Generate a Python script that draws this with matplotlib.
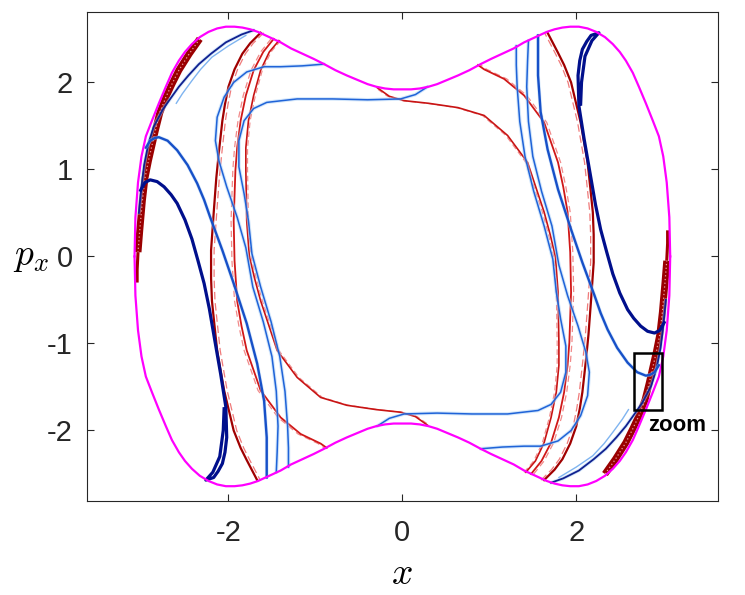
import matplotlib
matplotlib.use('Agg')
import matplotlib.pyplot as plt
import numpy as np
from matplotlib.patches import Rectangle

plt.rcParams['font.family'] = ['Liberation Sans', 'DejaVu Sans']
plt.rcParams['mathtext.fontset'] = 'cm'
plt.rcParams['axes.unicode_minus'] = False

# energy boundary, upper-left quarter (mirrored for the rest)
bound_x = [-3.08, -3.07, -3.04, -3.00, -2.95, -2.88, -2.80, -2.72, -2.65, -2.57, -2.50, -2.42,
           -2.33, -2.23, -2.13, -2.03, -1.93, -1.84, -1.75, -1.66, -1.53, -1.40, -1.28, -1.15,
           -1.02, -0.90, -0.77, -0.64, -0.52, -0.40, -0.30, -0.20, -0.10, 0.00]
bound_p = [0.00, 0.45, 0.85, 1.15, 1.38, 1.56, 1.76, 1.95, 2.11, 2.25, 2.35, 2.44,
           2.52, 2.58, 2.62, 2.64, 2.64, 2.63, 2.61, 2.58, 2.52, 2.46, 2.39, 2.33,
           2.27, 2.21, 2.14, 2.08, 2.03, 1.98, 1.95, 1.93, 1.92, 1.92]

# manifold curves, left-hand pieces; each one is also drawn rotated by 180 deg
navy_x = [-3.01, -2.96, -2.90, -2.82, -2.74, -2.66, -2.59, -2.50, -2.42, -2.35, -2.28, -2.22,
          -2.17, -2.09, -2.03, -2.02, -2.04, -2.07, -2.12, -2.17, -2.26, -2.18, -2.10, -2.06, -2.05]
navy_p = [0.76, 0.85, 0.88, 0.86, 0.80, 0.71, 0.61, 0.42, 0.20, -0.05, -0.31, -0.60,
          -0.89, -1.35, -1.73, -2.08, -2.25, -2.38, -2.47, -2.54, -2.57, -2.48, -2.30, -2.00, -1.75]

arc_x = [-2.95, -2.90, -2.85, -2.80, -2.70, -2.59, -2.47, -2.36, -2.28, -2.21, -2.14, -2.07, -1.94,
         -1.79, -1.67, -1.59, -1.56, -1.56, -1.56]
arc_p = [1.25, 1.33, 1.36, 1.37, 1.33, 1.22, 1.05, 0.84, 0.65, 0.45, 0.26, 0.07, -0.31,
         -0.77, -1.23, -1.66, -2.08, -2.30, -2.54]

h1_x = [-0.90, -1.15, -1.40, -1.59, -1.79, -1.94, -2.05, -2.13, -2.15, -2.11, -2.02, -1.90,
        -1.80, -1.72, -1.60, -1.50, -1.45, -1.43, -1.44, -1.45]
h1_p = [2.21, 2.19, 2.18, 2.18, 2.12, 2.00, 1.83, 1.60, 1.33, 1.10, 0.80, 0.45,
        0.10, -0.35, -0.75, -1.15, -1.55, -1.95, -2.25, -2.48]

h2_x = [0.29, 0.15, -0.02, -0.40, -0.80, -1.21, -1.56, -1.71, -1.82, -1.88, -1.88, -1.82,
        -1.77, -1.73, -1.63, -1.51, -1.41, -1.35, -1.32, -1.31, -1.31]
h2_p = [1.95, 1.86, 1.81, 1.80, 1.81, 1.81, 1.77, 1.70, 1.56, 1.33, 1.03, 0.72,
        0.41, 0.03, -0.35, -0.75, -1.15, -1.55, -1.95, -2.20, -2.42]

edge_x = [-1.71, -1.85, -2.03, -2.20, -2.34, -2.46, -2.57, -2.67, -2.76, -2.86, -2.92, -2.97,
          -3.00, -3.03]
edge_p = [2.60, 2.55, 2.46, 2.33, 2.21, 2.08, 1.95, 1.81, 1.68, 1.49, 1.30, 1.05,
          0.80, 0.50]

edge2_x = [-1.80, -2.00, -2.19, -2.32, -2.42, -2.53, -2.60]
edge2_p = [2.54, 2.42, 2.29, 2.15, 2.02, 1.87, 1.76]

band_x = [-2.33, -2.45, -2.57, -2.65, -2.72, -2.79, -2.84, -2.92, -2.96, -2.99, -3.02, -3.04, -3.05, -3.05]
band_p = [2.50, 2.33, 2.14, 1.98, 1.83, 1.65, 1.45, 1.10, 0.90, 0.64, 0.30, 0.05, -0.15, -0.30]

r1_x = [-1.63, -1.75, -1.84, -1.93, -2.00, -2.04, -2.07, -2.11, -2.14, -2.17, -2.20, -2.20,
        -2.19, -2.16, -2.13, -2.05, -1.94, -1.86, -1.79, -1.67]
r1_p = [2.57, 2.45, 2.33, 2.15, 1.95, 1.75, 1.56, 1.20, 0.90, 0.50, 0.07, -0.25,
        -0.51, -0.80, -1.08, -1.54, -2.00, -2.20, -2.34, -2.57]

r2_x = [-1.48, -1.60, -1.71, -1.80, -1.86, -1.90, -1.92, -1.94, -1.93, -1.90, -1.85, -1.79,
        -1.63, -1.40, -1.17, -0.94, -0.87]
r2_p = [2.50, 2.35, 2.14, 1.85, 1.56, 1.25, 0.99, 0.41, -0.05, -0.51, -0.80, -1.08,
        -1.54, -1.85, -2.04, -2.15, -2.20]

r3_x = [-1.42, -1.53, -1.63, -1.71, -1.77, -1.80, -1.80, -1.79, -1.76, -1.70, -1.63, -1.44,
        -1.21, -0.94, -0.64, -0.30, -0.02, 0.15, 0.29]
r3_p = [2.48, 2.35, 2.14, 1.85, 1.56, 1.25, 0.99, 0.41, 0.00, -0.25, -0.51, -1.08,
        -1.39, -1.62, -1.71, -1.76, -1.79, -1.84, -1.94]

# zoom box (x0, x1, p0, p1)
zoom_box = [2.66, 2.99, -1.76, -1.11]

fig = plt.figure(figsize=(7.45, 5.95), dpi=100)
ax = fig.add_axes([0.1164, 0.158, 0.8474, 0.822])


def both(x, p, **kw):
    # curve plus its copy under (x, p) -> (-x, -p)
    x = np.array(x)
    p = np.array(p)
    ax.plot(x, p, **kw)
    ax.plot(-x, -p, **kw)


halo = dict(color='#a8cff7', lw=2.6, alpha=0.5, solid_capstyle='round')

# red manifolds (thick band tapers off into a thin tail)
both(band_x[:12], band_p[:12], color='#9a0000', lw=5.0, solid_capstyle='butt')
both(band_x[11:], band_p[11:], color='#a00000', lw=2.2, solid_capstyle='butt')
both(band_x[:12], band_p[:12], color='#e9a0a0', lw=0.9, ls=(0, (1, 2)))
both(np.array(r1_x) + 0.035, r1_p, color='#f07a7a', lw=0.9, ls=(0, (6, 3)))
both(r1_x, r1_p, color='#a00000', lw=1.6)
both(np.array(r2_x) - 0.03, r2_p, color='#f28a8a', lw=0.9, ls=(0, (5, 3)))
both(r2_x, r2_p, color='#d01818', lw=1.3)
both(np.array(r3_x) + 0.02, r3_p, color='#f28a8a', lw=0.8, ls=(0, (5, 3)))
both(r3_x, r3_p, color='#c81414', lw=1.2)

# blue manifolds
both(edge2_x, edge2_p, color='#7fb4f0', lw=1.0)
both(edge_x, edge_p, **halo)
both(edge_x, edge_p, color='#10208f', lw=1.3)
both(h1_x, h1_p, **halo)
both(h1_x, h1_p, color='#1f63d8', lw=1.1)
both(h2_x, h2_p, **halo)
both(h2_x, h2_p, color='#1f63d8', lw=1.1)
both(arc_x, arc_p, **halo)
both(arc_x, arc_p, color='#1750c8', lw=1.7)
both(navy_x, navy_p, color='#000f8c', lw=2.3)

# energy boundary
bx = np.array(bound_x)
bp = np.array(bound_p)
top_x = np.concatenate([bx, -bx[::-1]])
top_p = np.concatenate([bp, bp[::-1]])
ax.plot(top_x, top_p, color='#ff00ff', lw=1.6)
ax.plot(top_x, -top_p, color='#ff00ff', lw=1.6)

ax.add_patch(Rectangle((zoom_box[0], zoom_box[2]), zoom_box[1] - zoom_box[0],
                       zoom_box[3] - zoom_box[2], fill=False, ec='black', lw=1.8, zorder=5))
ax.text(2.83, -1.94, 'zoom', fontsize=16, fontweight='bold', ha='left', va='center', zorder=5)

ax.set_xlim(-3.63, 3.63)
ax.set_ylim(-2.81, 2.81)
ax.set_xticks([-2, 0, 2])
ax.set_yticks([-2, -1, 0, 1, 2])
ax.tick_params(direction='in', length=5, width=0.8, labelsize=21, colors='#262626',
               top=True, right=True, pad=10)
ax.tick_params(axis='x', pad=13)
for s in ax.spines.values():
    s.set_color('#262626')
    s.set_linewidth(0.8)

fig.text(402 / 745, 1 - 574 / 595, '$x$', fontsize=27, ha='center', va='center')
fig.text(31 / 745, 1 - 256 / 595, '$p_x$', fontsize=27, ha='center', va='center')

fig.savefig('out.png', dpi=100)
